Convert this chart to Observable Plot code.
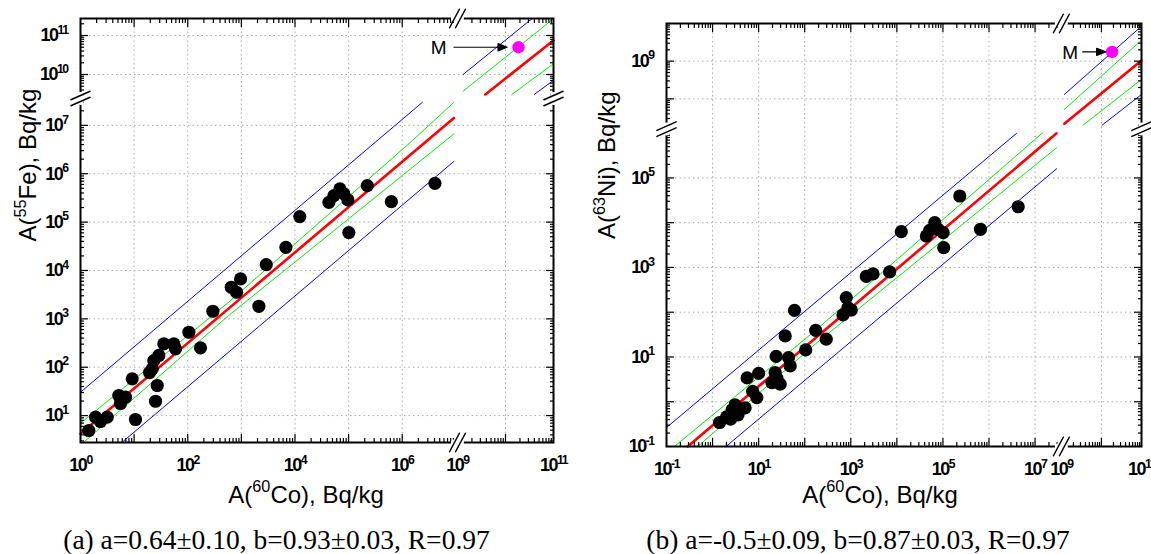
<!DOCTYPE html>
<html><head><meta charset="utf-8">
<script src="https://cdn.jsdelivr.net/npm/d3@7"></script>
<script src="https://cdn.jsdelivr.net/npm/@observablehq/plot@0.6"></script>
<style>
html,body{margin:0;padding:0;background:#fff;}
#wrap{display:flex;width:1151px;height:554px;overflow:hidden;}
.panel{display:flex;flex-direction:column;flex:none;}
.cap{font-family:"Liberation Serif","Times New Roman",serif;font-size:27.5px;line-height:27px;text-align:center;white-space:nowrap;color:#000;margin-top:8px;}
#pa .cap{padding-right:22px;}
#pb .cap{padding-right:10px;}
</style></head><body>
<div id="wrap"><div class="panel" id="pa"></div><div class="panel" id="pb"></div></div>
<script>
// ---------------- DATA ----------------
// Panel (a): A(60Co) vs A(55Fe), Bq/kg
const co60A = [1.43, 1.91, 3.15, 2.36, 5.18, 6.91, 5.57, 9.22, 10.6, 21.8, 23.3, 27, 25.1, 35.8, 28.9, 55, 59.2, 105, 173, 294,
  648, 813, 966, 2120, 2910, 6770, 12300, 42900, 53200, 68800, 81700, 97000, 101000, 223000, 627000, 4.07e6, 19.4];
const fe55A = [4.92, 9.27, 9.27, 7.55, 26, 24, 17.8, 57.5, 8.3, 92.7, 137, 41.9, 19.8, 304, 175, 304, 240, 528, 252, 1435,
  4500, 3550, 6700, 1820, 13250, 30100, 130000, 256000, 353000, 485000, 383000, 288000, 60700, 568000, 265000, 634000, 77.7];
// Panel (b): A(60Co) vs A(63Ni), Bq/kg
const co60B = [1.42, 2.01, 2.65, 2.46, 3.58, 5.09, 3.08, 5.62, 7.41, 9.14, 10, 19.4, 24.9, 29.3, 22.8, 24, 37.7, 44.5, 48.4, 60,
  105, 173, 293, 676, 869, 798, 1025, 2170, 3040, 6970, 12500, 43800, 51600, 66400, 78700, 101000, 104000, 232000, 653000, 4.3e6];
const ni63B = [0.344, 0.46, 0.66, 0.41, 0.51, 0.73, 0.85, 3.41, 1.71, 1.24, 4.3, 2.68, 3.36, 2.47, 4.49, 10.3, 29.6, 9.7, 6.3, 110,
  14.4, 39.3, 25, 87, 127, 212, 112, 630, 716, 794, 6300, 5050, 6760, 10000, 7120, 5980, 2770, 39400, 7120, 22700];

// Regression line (red), confidence band (green), prediction band (blue): [x, y] points
const aRed      = [[1, 4.21], [9.2e6, 1.42e7]];
const aGreenU   = [[1, 6.97], [577, 2200], [1.54e6, 4.83e6], [9.2e6, 2.99e7]];
const aGreenL   = [[1.15, 2.82], [577, 1170], [9.2e6, 6.64e6]];
const aBlueU    = [[1, 30.4], [2.37e6, 2.99e7]];
const aBlueL    = [[6.0, 2.82], [9.2e6, 1.8e6]];
const aRedHi    = [[3.81e9, 3.08e9], [9.95e10, 7.45e10]];
const aGreenUHi = [[1.31e9, 3.73e9], [9.95e10, 2.69e11]];
const aGreenLHi = [[1.36e10, 3.08e9], [9.95e10, 1.88e10]];
const aBlueUHi  = [[1.31e9, 1e10], [3.55e10, 2.69e11]];
const aBlueLHi  = [[3.98e10, 3.08e9], [9.95e10, 7.03e9]];
const aM = [1.87e10, 5.0e10];

const bRed      = [[0.289, 0.1], [2.93e7, 9.91e5]];
const bGreenU   = [[0.148, 0.1], [169, 38.7], [1.46e7, 1.02e6]];
const bGreenL   = [[0.476, 0.1], [169, 19.4], [2.93e7, 4.72e5]];
const bBlueU    = [[0.1, 0.265], [3.96e6, 9.91e5]];
const bBlueL    = [[1.96, 0.1], [2.93e7, 1.6e5]];
const bRedHi    = [[1.19e9, 2.17e7], [1e11, 1.04e9]];
const bGreenUHi = [[1.19e9, 5.24e7], [1e11, 3.61e9]];
const bGreenLHi = [[3.49e9, 2.0e7], [1e11, 3.27e8]];
const bBlueUHi  = [[1.19e9, 1.31e8], [1e11, 8.47e9]];
const bBlueLHi  = [[1.04e10, 2.0e7], [1e11, 1.31e8]];
const bM = [1.85e10, 1.77e9];

// Tick label exponents (labels are 10^k)
const aXLabels = [0, 2, 4, 6, 9, 11];
const aYLabels = [1, 2, 3, 4, 5, 6, 7, 10, 11];
const bXLabels = [-1, 1, 3, 5, 7, 9, 11];
const bYLabels = [-1, 1, 3, 5, 9];

const capA = "(a) a=0.64±0.10, b=0.93±0.03, R=0.97";
const capB = "(b) a=-0.5±0.09, b=0.87±0.03, R=0.97";

// ---------------- helpers ----------------
const SANS = "'Liberation Sans', Arial, Helvetica, sans-serif";
const TICKFONT = "'Liberation Sans', Arial, sans-serif";
const RED = "#ff0000", GREEN = "#00ee00", BLUE = "#0000ff";

// broken log axis: two segments [lo, cut] and [resume, hi] (exponents); second segment compressed by k
function brokenLog(s0, s1, k) {
  const mid = (s0[1] + s1[0]) / 2;
  return v => { const l = Math.log10(v); return l < mid ? l : s0[1] + (l - s1[0]) * k; };
}
function innerDecades(segs) {
  const out = [];
  for (const [lo, hi] of segs) for (let e = Math.ceil(lo); e <= hi; e++) if (e - lo > 0.15 && hi - e > 0.15) out.push(e);
  return out;
}
function minorLogs(segs) {
  const out = [];
  for (const [lo, hi] of segs) for (let d = Math.floor(lo); d < hi; d++) for (let m = 2; m <= 9; m++) {
    const l = d + Math.log10(m); if (l > lo + 0.02 && l < hi - 0.02) out.push(l);
  }
  return out;
}
const segShape = {draw(c, l) { c.moveTo(0, 0); c.lineTo(0, -l); }};
const arrowShape = {draw(c, l) { const h = 9, w = 3.6; c.moveTo(0, 0); c.lineTo(0, -l + h); c.moveTo(-w, -l + h); c.lineTo(0, -l); c.lineTo(w, -l + h); c.closePath(); }};

function makePanel(cfg) {
  const [s0x, s1x] = cfg.xSegs, [s0y, s1y] = cfg.ySegs;
  const X = brokenLog(s0x, s1x, cfg.kx), Y = brokenLog(s0y, s1y, cfg.ky);
  const ex = e => X(10 ** e), ey = e => Y(10 ** e);
  const xDom = [ex(s0x[0]), ex(s1x[1])], yDom = [ey(s0y[0]), ey(s1y[1])];
  const xMajor = innerDecades(cfg.xSegs).map(ex), yMajor = innerDecades(cfg.ySegs).map(ey);
  const xMinor = minorLogs(cfg.xSegs).map(ex), yMinor = minorLogs(cfg.ySegs).map(ey);
  const xLab = new Map(cfg.xLabels.map(e => [ex(e), e])), yLab = new Map(cfg.yLabels.map(e => [ey(e), e]));
  const acc = {x: d => X(d[0]), y: d => Y(d[1])};
  const pts = d3.zip(cfg.xs, cfg.ys);
  const cutX = ex(s0x[1]), cutY = ey(s0y[1]);
  const xbk = [[cutX, yDom[0]], [cutX, yDom[1]]], ybk = [[xDom[0], cutY], [xDom[1], cutY]];
  const raw = {x: d => d[0], y: d => d[1]};
  const tickAx = (dim, anchor, data, size) =>
    (dim === "x" ? Plot.axisX : Plot.axisY)(data, {anchor, tickSize: -size, fill: "none", strokeWidth: 1.2, label: null});
  const grid = {stroke: "#aaaaaa", strokeDasharray: "1.5,3", strokeWidth: 1};

  const svg = Plot.plot({
    width: cfg.width, height: cfg.height,
    marginLeft: cfg.margin[3], marginRight: cfg.margin[1], marginTop: cfg.margin[0], marginBottom: cfg.margin[2],
    style: {background: "white", overflow: "visible"},
    x: {type: "linear", domain: xDom},
    y: {type: "linear", domain: yDom},
    marks: [
      Plot.ruleX(xMajor, grid),
      Plot.ruleY(yMajor, grid),
      ...cfg.lines.map(([p, c, w]) => Plot.line(p, {...acc, stroke: c, strokeWidth: w})),
      Plot.dot(pts, {...acc, r: 6.6, fill: "black", stroke: "none"}),
      Plot.dot([cfg.M], {...acc, r: 6.2, fill: "#ff00ff", stroke: "none"}),
      Plot.vector([cfg.M], {...acc, rotate: 90, anchor: "end", length: cfg.arrowLen, dx: cfg.arrowDx, shape: arrowShape, stroke: "black", fill: "black", strokeWidth: 1.2}),
      Plot.text([cfg.M], {...acc, text: () => "M", dx: cfg.mDx, dy: 1, fontSize: 19, fontFamily: SANS, fill: "black"}),
      Plot.frame({stroke: "black", strokeWidth: 2}),
      tickAx("x", "bottom", xMajor, 8), tickAx("x", "top", xMajor, 8),
      tickAx("x", "bottom", xMinor, 4), tickAx("x", "top", xMinor, 4),
      tickAx("y", "left", yMajor, 8), tickAx("y", "right", yMajor, 8),
      tickAx("y", "left", yMinor, 4), tickAx("y", "right", yMinor, 4),
      Plot.axisX([...xLab.keys()], {anchor: "bottom", tickSize: 0, tickPadding: 16, tickFormat: u => `10^{${xLab.get(u)}}`, fontSize: 18, fontWeight: "bold", fontFamily: TICKFONT, label: null}),
      Plot.axisY([...yLab.keys()], {anchor: "left", tickSize: 0, tickPadding: 13, tickFormat: u => `10^{${yLab.get(u)}}`, fontSize: 18, fontWeight: "bold", fontFamily: TICKFONT, label: null}),
      // axis breaks
      Plot.vector(xbk, {...raw, rotate: 90, length: 7, stroke: "white", strokeWidth: 6, shape: segShape}),
      Plot.vector(ybk, {...raw, rotate: 0, length: 7, stroke: "white", strokeWidth: 6, shape: segShape}),
      Plot.vector(xbk, {...raw, rotate: 28, length: 21, dx: -3, stroke: "black", strokeWidth: 1.5, shape: segShape}),
      Plot.vector(xbk, {...raw, rotate: 28, length: 21, dx: 3, stroke: "black", strokeWidth: 1.5, shape: segShape}),
      Plot.vector(ybk, {...raw, rotate: 66, length: 21, dy: -3, stroke: "black", strokeWidth: 1.5, shape: segShape}),
      Plot.vector(ybk, {...raw, rotate: 66, length: 21, dy: 3, stroke: "black", strokeWidth: 1.5, shape: segShape}),
      // axis titles
      Plot.text([cfg.xTitle], {frameAnchor: "bottom", text: d => d, dx: cfg.xTitleDx, dy: cfg.xTitleDy, fontSize: 24, fontFamily: SANS, fill: "black"}),
      Plot.text([cfg.yTitle], {frameAnchor: "left", text: d => d, rotate: -90, dx: cfg.yTitleDx, dy: cfg.yTitleDy, fontSize: 24, fontFamily: SANS, fill: "black"})
    ]
  });
  return svg;
}

function supify(root) {
  const NS = "http://www.w3.org/2000/svg";
  root.querySelectorAll("text").forEach(t => {
    const s = t.textContent;
    if (!s.includes("^{")) return;
    if (t.closest('[aria-label$="tick label"]')) t.setAttribute("letter-spacing", "-1.5");
    const fs = parseFloat(getComputedStyle(t).fontSize) || 18;
    const parts = s.split(/\^\{([^}]*)\}/);
    while (t.firstChild) t.removeChild(t.firstChild);
    let shifted = false;
    parts.forEach((p, i) => {
      if (p === "") return;
      const ts = document.createElementNS(NS, "tspan");
      ts.textContent = p;
      if (i % 2 === 1) { ts.setAttribute("font-size", (fs * 0.68).toFixed(1)); ts.setAttribute("dy", (-fs * 0.42).toFixed(1)); shifted = true; }
      else if (shifted) { ts.setAttribute("dy", (fs * 0.42).toFixed(1)); shifted = false; }
      t.appendChild(ts);
    });
  });
}

const panelA = makePanel({
  width: 575, height: 518, margin: [18, 22, 76, 80],
  xSegs: [[0, 7.03], [9, 11]], kx: 0.8955,
  ySegs: [[0.444, 7.556], [9.385, 11.436]], ky: 0.806,
  xLabels: aXLabels, yLabels: aYLabels,
  xs: co60A, ys: fe55A,
  lines: [[aBlueU, BLUE, 1], [aBlueL, BLUE, 1], [aGreenU, GREEN, 1], [aGreenL, GREEN, 1], [aRed, RED, 2.6],
          [aBlueUHi, BLUE, 1], [aBlueLHi, BLUE, 1], [aGreenUHi, GREEN, 1], [aGreenLHi, GREEN, 1], [aRedHi, RED, 2.6]],
  M: aM, arrowLen: 53, arrowDx: -11.5, mDx: -80,
  xTitle: "A(^{60}Co), Bq/kg", yTitle: "A(^{55}Fe), Bq/kg", xTitleDx: -11, xTitleDy: 60, yTitleDx: -52, yTitleDy: 11
});
const panelB = makePanel({
  width: 576, height: 518, margin: [23, 10, 72, 91],
  xSegs: [[-1, 7.57], [9, 11]], kx: 0.87,
  ySegs: [[-1, 6.09], [7.196, 10]], ky: 0.8415,
  xLabels: bXLabels, yLabels: bYLabels,
  xs: co60B, ys: ni63B,
  lines: [[bBlueU, BLUE, 1], [bBlueL, BLUE, 1], [bGreenU, GREEN, 1], [bGreenL, GREEN, 1], [bRed, RED, 2.6],
          [bBlueUHi, BLUE, 1], [bBlueLHi, BLUE, 1], [bGreenUHi, GREEN, 1], [bGreenLHi, GREEN, 1], [bRedHi, RED, 2.6]],
  M: bM, arrowLen: 23, arrowDx: -6.5, mDx: -42,
  xTitle: "A(^{60}Co), Bq/kg", yTitle: "A(^{63}Ni), Bq/kg", xTitleDx: -24, xTitleDy: 56, yTitleDx: -59, yTitleDy: 4
});

function mount(id, svg, cap) {
  const el = document.getElementById(id);
  el.appendChild(svg);
  const c = document.createElement("div");
  c.className = "cap"; c.textContent = cap;
  el.appendChild(c);
  supify(svg);
}
mount("pa", panelA, capA);
mount("pb", panelB, capB);
</script></body></html>
